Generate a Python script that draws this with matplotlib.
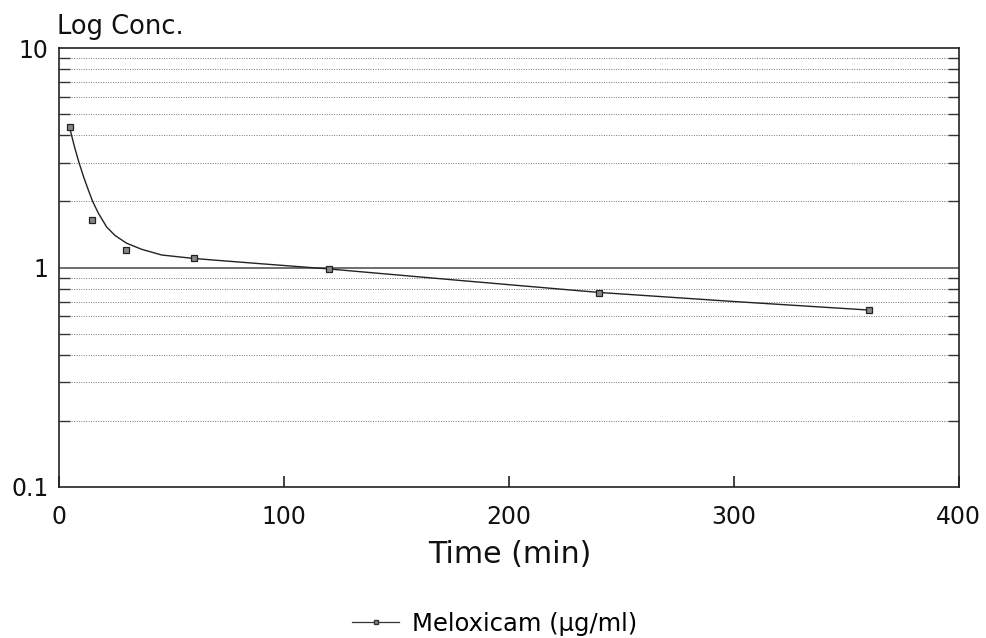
import matplotlib
matplotlib.use("Agg")
import matplotlib.pyplot as plt
from matplotlib.ticker import NullFormatter, LogLocator
from matplotlib.lines import Line2D

plt.rcParams['font.family'] = ['DejaVu Sans']

# Measured points
time_min = [5, 15, 30, 60, 120, 240, 360]
conc = [4.35, 1.64, 1.20, 1.10, 0.98, 0.765, 0.64]

# Fitted curve
fit_time = [5, 7, 9, 11, 13.2, 15.1, 17.6, 21.3, 25, 30.2, 36.9, 45.8, 59.8, 69.5, 90, 120, 180, 240, 300, 360]
fit_conc = [4.28, 3.55, 3.01, 2.6, 2.25, 2.00, 1.77, 1.53, 1.40, 1.29, 1.21, 1.14, 1.10, 1.08, 1.04, 0.985, 0.87, 0.77, 0.70, 0.64]

x_ticks = [0, 100, 200, 300, 400]
y_ticks = [0.1, 1, 10]
y_tick_labels = ["0.1", "1", "10"]
series_label = "Meloxicam (µg/ml)"

W, H = 986, 638
fig = plt.figure(figsize=(W / 100, H / 100), dpi=100)
ax = fig.add_axes([58.7 / W, 1 - 487 / H, 900 / W, 439 / H])

ax.set_yscale('log')
ax.set_xlim(0, 400)
ax.set_ylim(0.1, 10)

ax.plot(fit_time, fit_conc, color='#222222', lw=1.0, zorder=3)
ax.plot(time_min, conc, ls='none', marker='s', ms=3.8, mfc='#888888', mec='#222222', mew=0.9, zorder=4)

# grid
ax.yaxis.set_minor_locator(LogLocator(base=10, subs=range(2, 10)))
ax.yaxis.set_minor_formatter(NullFormatter())
ax.grid(True, which='minor', axis='y', ls=(0, (1, 1.5)), color='#777777', lw=0.7)
ax.axhline(1, color='#555555', lw=1.2, zorder=2)

ax.set_xticks(x_ticks)
ax.set_xticklabels([str(v) for v in x_ticks])
ax.set_yticks(y_ticks)
ax.set_yticklabels(y_tick_labels)

ax.tick_params(axis='x', which='major', direction='in', length=8, width=1.1, pad=13, labelsize=17, colors='#111111')
ax.tick_params(axis='y', which='major', length=0, pad=7.5, labelsize=17, colors='#111111')
ax.tick_params(axis='y', which='minor', direction='in', length=8, width=1.0, left=True, right=True, color='#333333')

for s in ax.spines.values():
    s.set_linewidth(1.2)
    s.set_color('#222222')

fig.text(57 / W, 1 - 33.5 / H, "Log Conc.", fontsize=18.5, va='baseline', ha='left', color='#111111')
fig.text(510 / W, 1 - 563 / H, "Time (min)", fontsize=21.6, va='baseline', ha='center', color='#111111')

handle = Line2D([], [], color='#333333', lw=0.9, marker='s', ms=3, mfc='#888888', mec='#333333')
fig.legend([handle], [series_label], loc='center left', bbox_to_anchor=(352 / W, 1 - 624 / H),
           frameon=False, fontsize=17.5, handlelength=1.95, handletextpad=0.5,
           borderpad=0, borderaxespad=0, numpoints=1)

fig.savefig("out.png", dpi=100)
